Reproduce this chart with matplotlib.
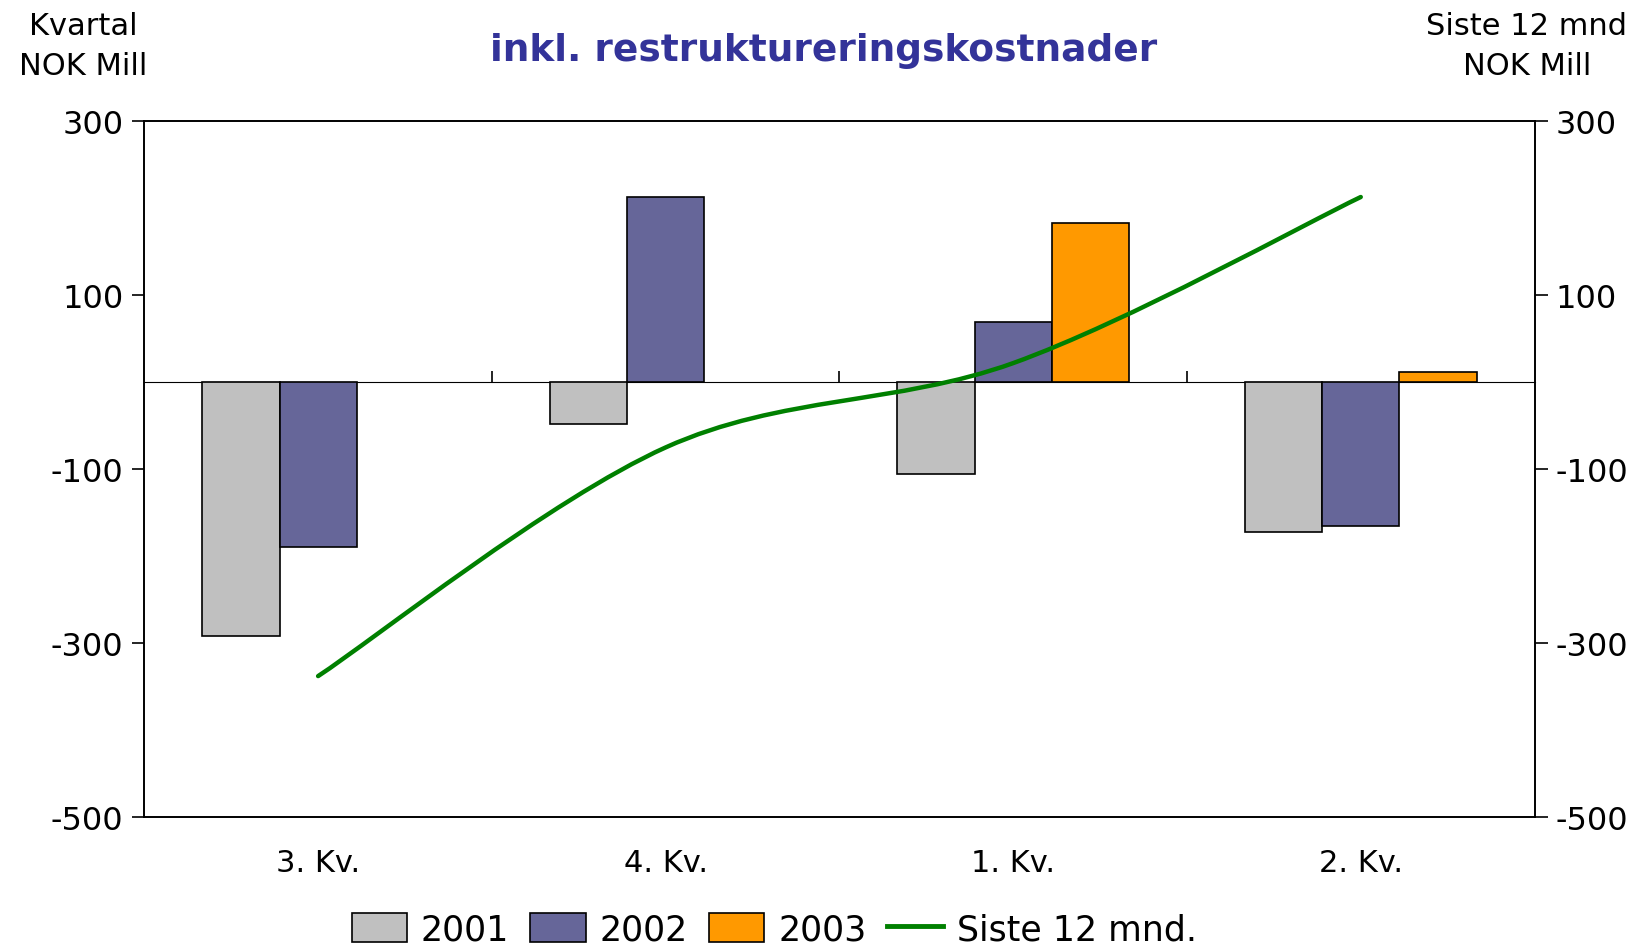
import matplotlib
matplotlib.use("Agg")
import matplotlib.pyplot as plt
from matplotlib.path import Path
from matplotlib.patches import PathPatch, Patch
from matplotlib.lines import Line2D
import numpy as np

# data
quarters = ["3. Kv.", "4. Kv.", "1. Kv.", "2. Kv."]
v2001 = [-292, -48, -106, -172]
v2002 = [-190, 213, 69, -165]
v2003 = [np.nan, np.nan, 183, 12]
siste12 = [-338, -75, 22, 213]

colors = {"2001": "#C0C0C0", "2002": "#666699", "2003": "#FF9900"}
line_color = "#008000"

plt.rcParams["font.family"] = "DejaVu Sans"
plt.rcParams["axes.unicode_minus"] = False

fig = plt.figure(figsize=(16.4, 9.53), dpi=100)
ax = fig.add_axes([0.088, 0.1417, 0.8477, 0.7299])
ax2 = ax.twinx()

x = np.arange(len(quarters))
w = 0.222
ax.bar(x - w, v2001, w, color=colors["2001"], edgecolor="black", linewidth=1.2, zorder=2)
ax.bar(x, v2002, w, color=colors["2002"], edgecolor="black", linewidth=1.2, zorder=2)
ax.bar(x + w, v2003, w, color=colors["2003"], edgecolor="black", linewidth=1.2, zorder=2)

for a in (ax, ax2):
    a.set_ylim(-500, 300)
    a.set_yticks([300, 100, -100, -300, -500])
    a.tick_params(axis="y", length=9, width=1.2, labelsize=23, direction="out", pad=6)
    for s in a.spines.values():
        s.set_linewidth(1.2)
ax.set_xlim(-0.5, len(quarters) - 0.5)
ax.set_xticks(x, quarters)
ax.tick_params(axis="x", length=0, labelsize=22, pad=22)

# zero line with category boundary ticks
zero = ax.secondary_xaxis(500 / 800)
zero.set_xticks(x[:-1] + 0.5)
zero.set_xticklabels([])
zero.tick_params(axis="x", direction="out", length=8, width=1.2)
zero.spines["bottom"].set_linewidth(1.5)

# smoothed line (Catmull-Rom style bezier through the points, like Excel)
pts = np.column_stack([x, siste12]).astype(float)
ext = np.vstack([pts[0], pts, pts[-1]])
verts = [pts[0]]
codes = [Path.MOVETO]
for i in range(len(pts) - 1):
    p0, p1, p2, p3 = ext[i], ext[i + 1], ext[i + 2], ext[i + 3]
    verts += [p1 + (p2 - p0) / 6, p2 - (p3 - p1) / 6, p2]
    codes += [Path.CURVE4] * 3
ax2.add_patch(PathPatch(Path(verts, codes), facecolor="none", edgecolor=line_color,
                        linewidth=3.2, capstyle="round", zorder=3))

fig.text(0.502, 0.947, "inkl. restruktureringskostnader", ha="center", va="center",
         fontsize=27, fontweight="bold", color="#333399")
fig.text(0.0506, 0.987, "Kvartal\nNOK Mill", ha="center", va="top", fontsize=22,
         linespacing=1.45)
fig.text(0.931, 0.987, "Siste 12 mnd\nNOK Mill", ha="center", va="top", fontsize=22,
         linespacing=1.45)

handles = [Patch(facecolor=colors[k], edgecolor="black", linewidth=1.2) for k in colors]
handles.append(Line2D([], [], color=line_color, linewidth=3.5))
fig.legend(handles, ["2001", "2002", "2003", "Siste 12 mnd."], loc="lower center",
           bbox_to_anchor=(0.472, -0.027), ncol=4, frameon=False, fontsize=25,
           handlelength=1.6, handleheight=0.9, handletextpad=0.4, columnspacing=0.6)

fig.savefig("out.png", dpi=100)
